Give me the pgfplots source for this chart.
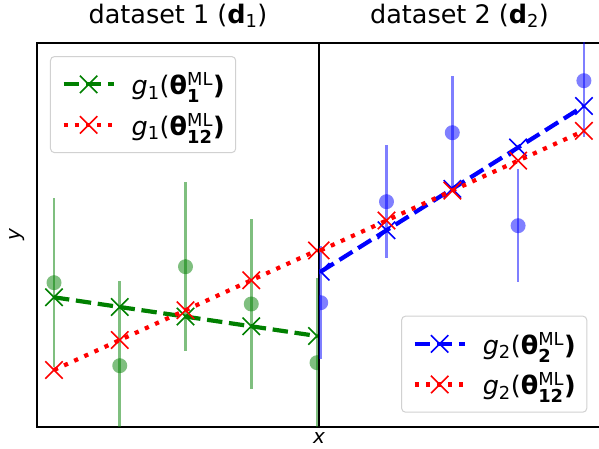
\documentclass[border=0pt]{standalone}
\usepackage{amsmath}
\usepackage{fontspec}
\setmainfont{DejaVu Sans}
\usepackage{pgfplots}
\pgfplotsset{compat=1.18}

\definecolor{mplgreen}{RGB}{0,128,0}
\definecolor{mplred}{RGB}{255,0,0}
\definecolor{mplblue}{RGB}{0,0,255}

\newcommand{\titlefont}{\fontsize{25.5pt}{30pt}\selectfont}
\newcommand{\legfont}{\fontsize{25.5pt}{29pt}\selectfont}
\newcommand{\labfont}{\fontsize{20pt}{24pt}\selectfont}

\pgfplotsset{
  panel/.style={
    scale only axis, height=384pt,
    ymin=0, ymax=384, ticks=none,
    axis line style={line width=1.2pt},
    clip marker paths=true,
    title style={font=\titlefont, at={(rel axis cs:0.5,1)}, anchor=base, yshift=13.7pt},
    legend cell align=left,
    legend image code/.code={
      \draw[mark repeat=2, mark phase=2] plot coordinates {(0pt,0pt) (25pt,0pt) (50pt,0pt)};
    },
    legend style={
      draw=black!18, line width=1pt, rounded corners=4pt,
      fill=white, fill opacity=0.8, text opacity=1,
      font=\legfont, inner xsep=11pt, inner ysep=16pt,
      row sep=17pt, column sep=16pt,
      nodes={inner sep=0pt},
    },
  },
  fitline/.style={line width=4.2pt, mark=x, mark size=12.3pt,
    mark options={solid, line width=1.6pt}},
  dashfit/.style={fitline, dash pattern=on 15.4pt off 6.7pt},
  dotfit/.style={fitline, dash pattern=on 4.2pt off 6.9pt},
  obs/.style={only marks, forget plot, mark=*, mark size=7.5pt,
    mark options={draw=#1, draw opacity=0, fill=#1, fill opacity=0.5},
    error bars/.cd, y dir=both, y explicit, error mark=none,
    error bar style={line width=2.7pt, draw=#1, draw opacity=0.5}},
}

\begin{document}
\begin{tikzpicture}
% dataset 1
\begin{axis}[panel, at={(0pt,0pt)}, anchor=south west, width=282pt,
  xmin=-0.2586, xmax=4.0304,
  title={dataset 1 (\textbf{d}$_{\text{1}}$)},
  xlabel={\itshape x}, ylabel={\itshape y},
  xlabel style={font=\labfont, inner sep=0pt, at={([yshift=-11.5pt]rel axis cs:1,0)}, anchor=center},
  ylabel style={font=\labfont, inner sep=0pt, at={([xshift=-19.5pt]rel axis cs:0,0.5)}, anchor=center},
  legend style={at={(rel axis cs:0.0461,0.966)}, anchor=north west},
]
\addplot[obs=mplgreen] coordinates {
  (0,144.3) +- (0,84.7)
  (1,61.3)  +- (0,84.7)
  (2,160.3) +- (0,84.7)
  (3,123.0) +- (0,84.7)
  (4,64.3)  +- (0,84.7)
};
\addplot[dashfit, mplgreen] coordinates {(0,129.7) (1,120.0) (2,110.4) (3,100.7) (4,91.0)};
\addlegendentry{{\itshape g}$_{\text{1}}$(\textbf{θ}$^{\text{ML}}_{\text{\bfseries 1}}$\textbf{)}}
\addplot[dotfit, mplred] coordinates {(0,57.0) (1,86.9) (2,116.8) (3,146.7) (4,176.6)};
\addlegendentry{{\itshape g}$_{\text{1}}$(\textbf{θ}$^{\text{ML}}_{\text{\bfseries 12}}$\textbf{)}}
\end{axis}
% dataset 2
\begin{axis}[panel, at={(282pt,0pt)}, anchor=south west, width=281pt,
  xmin=-0.0258, xmax=4.2447,
  title={dataset 2 (\textbf{d}$_{\text{2}}$)},
  legend style={at={(rel axis cs:0.9548,0.0372)}, anchor=south east},
]
\addplot[obs=mplblue] coordinates {
  (0,124.3) +- (0,56.7)
  (1,225.3) +- (0,56.7)
  (2,294.3) +- (0,56.7)
  (3,201.3) +- (0,56.7)
  (4,346.3) +- (0,56.7)
};
\addplot[dashfit, mplblue] coordinates {(0,155.3) (1,196.7) (2,238.1) (3,279.5) (4,321.0)};
\addlegendentry{{\itshape g}$_{\text{2}}$(\textbf{θ}$^{\text{ML}}_{\text{\bfseries 2}}$\textbf{)}}
\addplot[dotfit, mplred] coordinates {(0,176.6) (1,206.5) (2,236.4) (3,266.3) (4,296.2)};
\addlegendentry{{\itshape g}$_{\text{2}}$(\textbf{θ}$^{\text{ML}}_{\text{\bfseries 12}}$\textbf{)}}
\end{axis}
\pgfresetboundingbox
\useasboundingbox (-37pt,-22pt) rectangle (562pt,427pt);
\end{tikzpicture}
\end{document}
